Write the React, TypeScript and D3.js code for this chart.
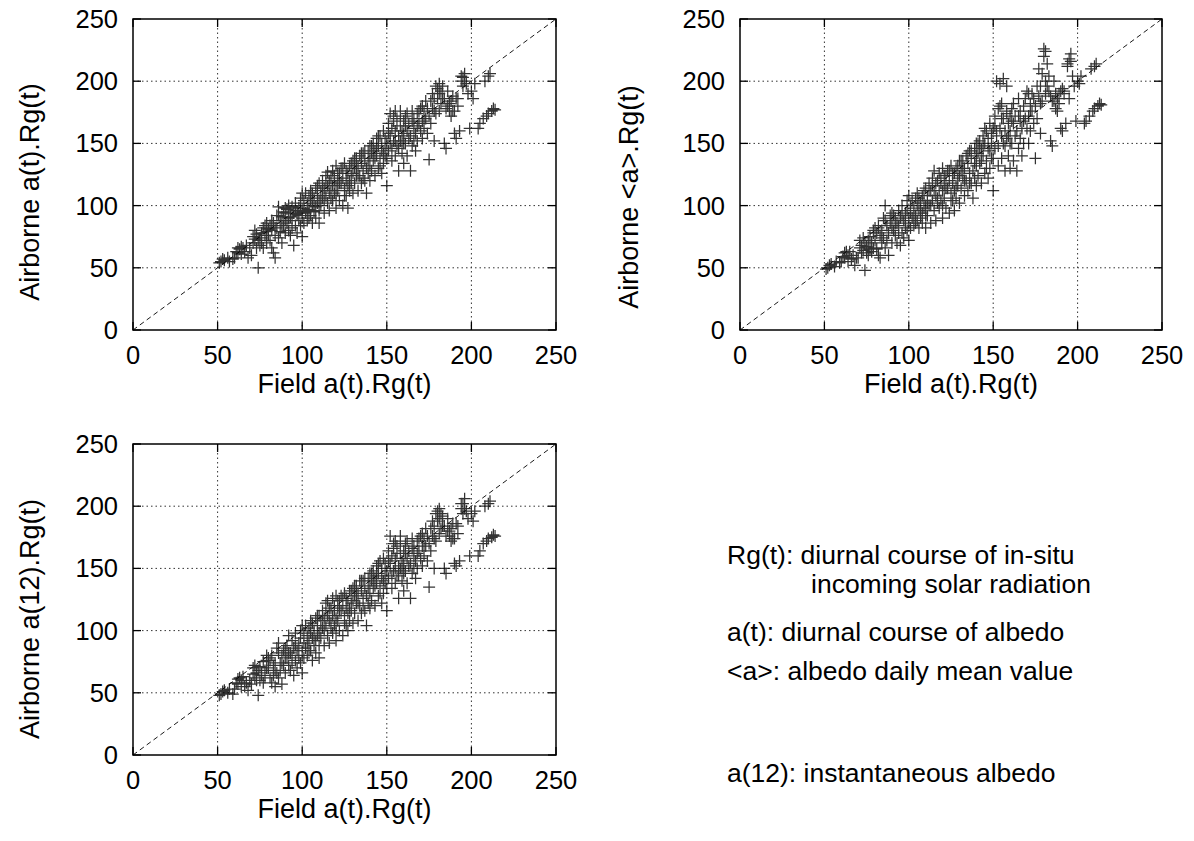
import React from 'react';
import * as d3 from 'd3';

// Field a(t).Rg(t) — shared x values of all three panels
const fieldValues = [
  51, 52, 53, 54, 56, 57, 59,
  60, 61, 62, 62, 63, 64, 64, 65, 66, 67, 68, 69,
  70, 71, 71, 72, 72, 73, 73, 74, 74, 75, 75, 76, 76, 77, 77, 78, 78, 79, 79, 80,
  80, 81, 81, 82, 82, 83, 83, 84, 84, 85, 85, 86, 86, 87, 87, 88, 88, 89, 89, 90, 90, 90,
  91, 91, 92, 92, 93, 93, 94, 94, 95, 95, 96, 96, 97, 97, 98, 98, 99, 99, 100, 100, 100, 100,
  101, 101, 102, 102, 103, 103, 104, 104, 105, 105, 105, 106, 106, 107, 107, 108, 108, 108, 109, 109, 110, 110, 110, 110,
  111, 111, 112, 112, 113, 113, 114, 114, 115, 115, 115, 116, 116, 117, 117, 118, 118, 118, 119, 119, 120, 120, 120, 120,
  121, 121, 122, 122, 123, 123, 124, 124, 125, 125, 126, 126, 127, 127, 127, 128, 128, 129, 129, 130, 130, 130,
  131, 131, 132, 132, 133, 133, 134, 134, 135, 135, 136, 136, 137, 137, 138, 138, 139, 139, 140, 140, 140, 140,
  141, 141, 142, 142, 143, 143, 144, 144, 145, 145, 146, 146, 147, 147, 148, 148, 148, 149, 149, 150, 150, 150,
  151, 151, 152, 152, 153, 153, 154, 154, 155, 155, 155, 156, 156, 157, 157, 158, 158, 158, 159, 159, 160, 160, 160, 160,
  161, 161, 162, 162, 163, 164, 164, 165, 165, 166, 166, 167, 167, 168, 168, 169, 170, 170,
  171, 171, 172, 172, 173, 173, 174, 175, 175, 176, 177, 177, 178, 178, 179, 180,
  180, 181, 181, 182, 182, 183, 184, 184, 185, 186, 186, 187, 188, 188, 189, 190,
  190, 191, 191, 192, 193, 194, 195, 195, 196, 197, 198, 199,
  200, 201, 202, 204, 205, 207, 208, 209, 210, 210, 211, 212, 213, 214,
  76, 79, 82, 84, 86, 88, 90, 92, 94, 96, 98, 99,
  101, 103, 104, 106, 107, 109, 111, 112, 113, 114, 116, 117, 119,
  121, 122, 124, 125, 126, 128, 129, 131, 132, 133, 135, 136, 137, 139,
  141, 142, 143, 144, 145, 146, 147, 149, 151, 152, 153, 154, 155, 156, 157, 158, 159,
  161, 162, 163, 165, 166, 168, 169, 171, 172, 174, 176, 178, 179,
  181, 183, 185, 187, 189, 192, 194, 196,
];

// Airborne a(t).Rg(t)
const airborneAt = [
  54, 55, 57, 56, 58, 55, 57,
  58, 63, 62, 66, 65, 67, 61, 66, 63, 68, 58, 66,
  60, 75, 70, 80, 73, 66, 77, 50, 72, 68, 74, 70, 78, 66, 82, 76, 84, 79, 70, 81,
  76, 84, 72, 80, 66, 62, 86, 58, 76, 82, 92, 99, 74, 88, 79, 91, 70, 84, 95, 78, 88, 98,
  86, 97, 80, 100, 91, 76, 88, 99, 68, 94, 84, 102, 93, 78, 98, 88, 106, 84, 75, 95, 110, 90,
  98, 86, 110, 94, 102, 88, 108, 97, 92, 104, 112, 100, 86, 106, 95, 114, 99, 90, 108, 102, 86, 118, 104, 96,
  112, 100, 120, 106, 114, 94, 124, 108, 102, 116, 127, 110, 96, 122, 112, 128, 104, 116, 120, 110, 98, 132, 116, 108,
  120, 112, 126, 104, 118, 130, 100, 122, 114, 134, 120, 108, 98, 126, 116, 132, 112, 124, 118, 136, 110, 126,
  130, 118, 124, 138, 112, 132, 140, 124, 118, 134, 128, 142, 120, 136, 110, 130, 144, 126, 138, 120, 132, 148,
  142, 128, 136, 150, 124, 144, 140, 154, 130, 148, 138, 156, 126, 150, 142, 160, 134, 146, 154, 116, 150, 138,
  158, 144, 174, 150, 162, 136, 168, 152, 140, 160, 176, 148, 170, 156, 128, 164, 152, 176, 142, 160, 168, 150, 134, 158,
  172, 150, 160, 140, 166, 128, 156, 176, 148, 162, 170, 144, 158, 174, 152, 166, 178, 160,
  168, 154, 176, 162, 170, 184, 158, 137, 172, 166, 190, 178, 152, 186, 174, 194,
  186, 198, 176, 192, 182, 196, 150, 186, 146, 180, 192, 176, 184, 172, 188, 158,
  176, 186, 154, 180, 160, 200, 203, 196, 206, 198, 190, 162,
  192, 186, 198, 162, 166, 170, 200, 172, 204, 174, 206, 176, 178, 177,
  74, 86, 88, 82, 92, 84, 94, 90, 82, 96, 92, 100,
  104, 96, 90, 110, 100, 116, 106, 114, 104, 118, 120, 106, 124,
  126, 118, 130, 108, 128, 120, 134, 138, 130, 124, 142, 122, 144, 136,
  148, 144, 138, 146, 156, 132, 144, 140, 166, 156, 146, 172, 152, 164, 146, 170, 152,
  164, 174, 154, 168, 152, 164, 176, 180, 170, 178, 184, 176, 196,
  190, 186, 178, 182, 176, 186, 204, 200,
];

// Airborne <a>.Rg(t)
const airborneMean = [
  49, 50, 52, 53, 51, 55, 54,
  55, 59, 62, 58, 63, 60, 55, 63, 57, 60, 52, 58,
  58, 72, 66, 68, 62, 74, 64, 48, 70, 62, 67, 60, 72, 65, 75, 63, 70, 80, 66, 82,
  72, 78, 65, 82, 60, 58, 76, 80, 70, 74, 90, 100, 66, 84, 72, 78, 60, 86, 92, 70, 82, 94,
  80, 92, 76, 90, 86, 70, 84, 96, 68, 90, 78, 100, 88, 74, 94, 82, 104, 80, 72, 90, 108, 86,
  94, 82, 104, 90, 98, 84, 106, 92, 88, 100, 110, 96, 82, 102, 90, 108, 94, 86, 104, 98, 82, 114, 100, 92,
  108, 92, 118, 100, 112, 86, 122, 104, 96, 112, 128, 108, 88, 120, 106, 126, 98, 112, 118, 104, 90, 130, 112, 100,
  116, 106, 124, 98, 114, 128, 94, 120, 110, 132, 118, 104, 96, 126, 112, 130, 106, 122, 116, 136, 102, 124,
  128, 114, 122, 136, 108, 130, 140, 120, 112, 134, 126, 144, 118, 138, 106, 128, 146, 122, 140, 116, 132, 150,
  142, 124, 134, 152, 118, 146, 140, 156, 126, 150, 136, 160, 122, 154, 144, 166, 130, 150, 158, 112, 162, 138,
  164, 146, 200, 156, 178, 132, 198, 162, 138, 170, 182, 150, 202, 160, 128, 174, 154, 196, 140, 166, 172, 150, 130, 160,
  178, 150, 166, 136, 172, 128, 160, 186, 146, 168, 176, 140, 162, 180, 150, 170, 192, 162,
  172, 150, 182, 160, 176, 190, 166, 138, 180, 170, 210, 188, 158, 196, 184, 226,
  220, 224, 190, 214, 196, 204, 152, 188, 148, 184, 200, 178, 186, 176, 190, 162,
  192, 194, 160, 190, 166, 214, 218, 186, 222, 204, 196, 168,
  200, 198, 204, 166, 168, 172, 210, 176, 212, 178, 214, 180, 182, 181,
  70, 78, 84, 76, 88, 78, 88, 86, 78, 92, 88, 96,
  100, 92, 86, 106, 96, 112, 102, 112, 100, 116, 118, 102, 122,
  124, 114, 128, 104, 126, 116, 132, 136, 128, 120, 142, 118, 144, 134,
  150, 146, 136, 148, 162, 130, 146, 138, 172, 160, 148, 180, 156, 170, 148, 176, 156,
  168, 182, 156, 172, 154, 168, 186, 190, 176, 186, 196, 182, 206,
  200, 192, 184, 190, 182, 192, 212, 216,
];

// Airborne a(12).Rg(t)
const airborne12 = [
  48, 49, 51, 52, 50, 53, 49,
  53, 58, 57, 61, 62, 60, 55, 63, 55, 58, 52, 60,
  57, 70, 65, 72, 62, 66, 60, 48, 68, 60, 71, 64, 66, 58, 75, 62, 68, 80, 70, 78,
  70, 76, 62, 80, 58, 64, 72, 55, 68, 66, 86, 90, 62, 74, 68, 80, 57, 72, 84, 66, 78, 86,
  78, 88, 72, 96, 82, 68, 80, 92, 64, 86, 76, 98, 84, 70, 90, 78, 100, 74, 66, 84, 104, 80,
  90, 78, 104, 86, 96, 80, 102, 92, 84, 98, 108, 94, 76, 100, 88, 110, 92, 82, 104, 96, 78, 112, 98, 88,
  108, 94, 116, 102, 110, 88, 122, 104, 96, 112, 124, 108, 90, 118, 106, 126, 98, 112, 116, 104, 92, 128, 110, 100,
  118, 108, 124, 100, 116, 128, 96, 120, 112, 130, 118, 104, 100, 124, 114, 132, 108, 122, 116, 134, 106, 124,
  128, 114, 122, 136, 108, 130, 140, 120, 114, 132, 126, 140, 116, 134, 104, 128, 142, 122, 136, 118, 130, 146,
  140, 124, 134, 148, 120, 142, 138, 152, 128, 146, 136, 156, 122, 150, 140, 158, 130, 144, 154, 116, 148, 134,
  156, 142, 176, 150, 160, 134, 166, 148, 138, 158, 172, 144, 168, 152, 126, 162, 150, 176, 140, 156, 164, 146, 132, 154,
  170, 148, 158, 138, 164, 126, 154, 174, 146, 160, 168, 142, 156, 172, 150, 164, 176, 158,
  168, 152, 174, 160, 168, 182, 156, 135, 170, 164, 188, 176, 150, 184, 172, 196,
  188, 198, 178, 194, 182, 192, 150, 184, 146, 180, 190, 176, 182, 172, 186, 154,
  174, 186, 152, 178, 156, 198, 202, 194, 206, 196, 190, 160,
  194, 188, 196, 160, 164, 170, 200, 172, 202, 174, 204, 175, 177, 176,
  66, 76, 80, 74, 82, 74, 86, 82, 74, 88, 84, 94,
  98, 90, 84, 106, 96, 112, 104, 112, 100, 116, 118, 102, 120,
  124, 116, 126, 106, 126, 118, 132, 136, 128, 122, 140, 120, 142, 134,
  146, 142, 136, 144, 154, 130, 142, 138, 164, 154, 144, 170, 150, 162, 144, 168, 150,
  162, 172, 152, 166, 150, 162, 174, 178, 168, 176, 182, 174, 194,
  190, 184, 176, 180, 174, 184, 202, 198,
];

const tickValues = [0, 50, 100, 150, 200, 250];
const xTitle = 'Field a(t).Rg(t)';
const yTitles = ['Airborne a(t).Rg(t)', 'Airborne <a>.Rg(t)', 'Airborne a(12).Rg(t)'];
const notes = [
  'Rg(t): diurnal course of in-situ',
  'incoming solar radiation',
  'a(t): diurnal course of albedo',
  '<a>: albedo daily mean value',
  'a(12): instantaneous albedo',
];

const FONT = '"Liberation Sans", Arial, Helvetica, sans-serif';

type PanelProps = {
  left: number; right: number; top: number; bottom: number;
  ys: number[]; yTitle: string; yTitleX: number; yTitleY: number;
};

function Panel({ left, right, top, bottom, ys, yTitle, yTitleX, yTitleY }: PanelProps) {
  const x = d3.scaleLinear().domain([0, 250]).range([left, right]);
  const y = d3.scaleLinear().domain([0, 250]).range([bottom, top]);
  const n = Math.min(fieldValues.length, ys.length);
  const s = 6;
  const t = 8;
  const plus = d3.range(n).map((i) => {
    const px = x(fieldValues[i]);
    const py = y(ys[i]);
    return `M${px - s},${py}H${px + s}M${px},${py - s}V${py + s}`;
  }).join('');
  return (
    <g>
      {tickValues.slice(1, -1).map((v) => (
        <g key={'g' + v}>
          <line x1={x(v)} x2={x(v)} y1={top} y2={bottom} stroke="#333" strokeWidth={1} strokeDasharray="1.5,3" />
          <line x1={left} x2={right} y1={y(v)} y2={y(v)} stroke="#333" strokeWidth={1} strokeDasharray="1.5,3" />
        </g>
      ))}
      <line x1={x(0)} y1={y(0)} x2={x(250)} y2={y(250)} stroke="#000" strokeWidth={0.9} strokeDasharray="5,3.5" />
      <path d={plus} stroke="#000" strokeOpacity={0.8} strokeWidth={1.25} fill="none" />
      {tickValues.map((v) => (
        <g key={'t' + v}>
          <line x1={x(v)} x2={x(v)} y1={bottom} y2={bottom - t} stroke="#000" strokeWidth={1.3} />
          <line x1={x(v)} x2={x(v)} y1={top} y2={top + t} stroke="#000" strokeWidth={1.3} />
          <line x1={left} x2={left + t} y1={y(v)} y2={y(v)} stroke="#000" strokeWidth={1.3} />
          <line x1={right} x2={right - t} y1={y(v)} y2={y(v)} stroke="#000" strokeWidth={1.3} />
          <text x={x(v)} y={bottom + 34} textAnchor="middle" fontSize={25.5} fontFamily={FONT}>{v}</text>
          <text x={left - 15} y={y(v) + 9} textAnchor="end" fontSize={25.5} fontFamily={FONT}>{v}</text>
        </g>
      ))}
      <rect x={left} y={top} width={right - left} height={bottom - top} fill="none" stroke="#000" strokeWidth={1.5} />
      <text x={(left + right) / 2} y={bottom + 63} textAnchor="middle" fontSize={27} fontFamily={FONT}>{xTitle}</text>
      <text transform={`translate(${yTitleX},${yTitleY}) rotate(-90)`} textAnchor="middle" dy={9} fontSize={27} fontFamily={FONT}>{yTitle}</text>
    </g>
  );
}

export default function App() {
  return (
    <svg width={1194} height={841} style={{ position: 'absolute', left: 0, top: 0, background: '#fff' }}>
      <rect width={1194} height={841} fill="#fff" />
      <Panel left={133} right={556} top={19} bottom={330} ys={airborneAt} yTitle={yTitles[0]} yTitleX={30} yTitleY={192} />
      <Panel left={740} right={1162} top={19} bottom={330} ys={airborneMean} yTitle={yTitles[1]} yTitleX={629} yTitleY={197} />
      <Panel left={133} right={556} top={444} bottom={755} ys={airborne12} yTitle={yTitles[2]} yTitleX={30} yTitleY={619} />
      <g fontSize={26.5} fontFamily={FONT}>
        <text x={727} y={564}>{notes[0]}</text>
        <text x={811} y={593}>{notes[1]}</text>
        <text x={727} y={641}>{notes[2]}</text>
        <text x={727} y={680}>{notes[3]}</text>
        <text x={727} y={782}>{notes[4]}</text>
      </g>
    </svg>
  );
}
